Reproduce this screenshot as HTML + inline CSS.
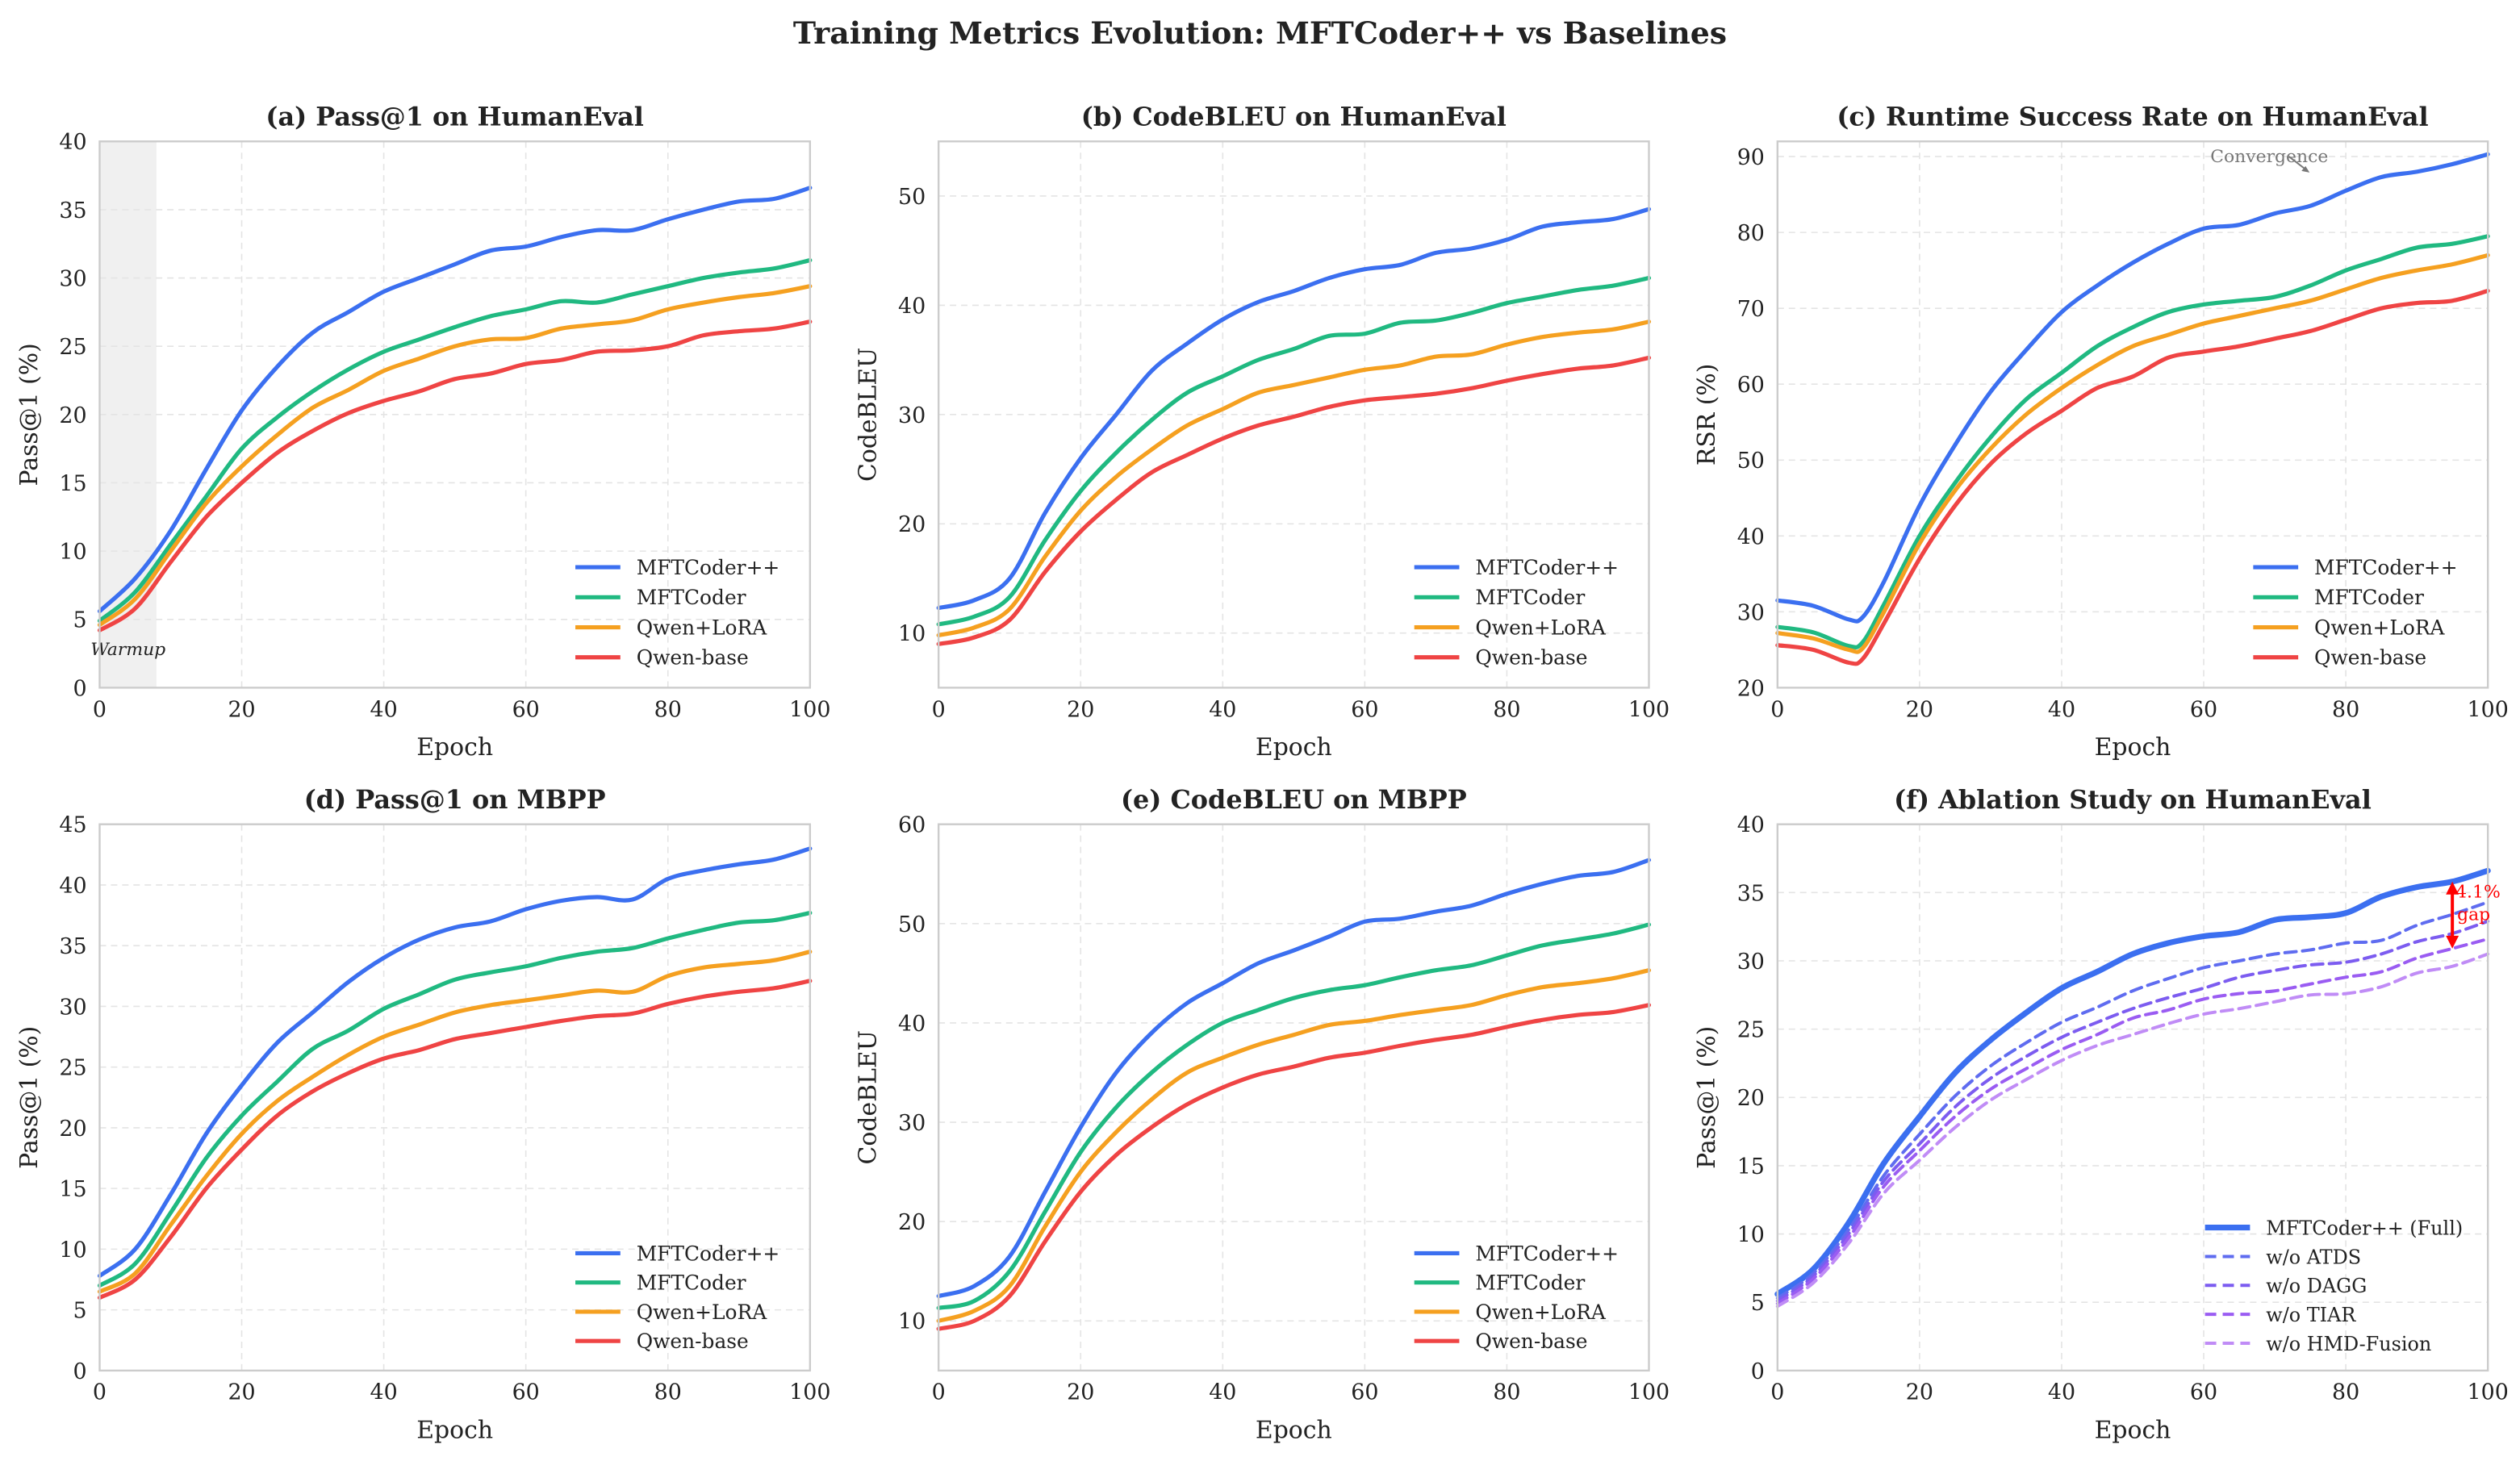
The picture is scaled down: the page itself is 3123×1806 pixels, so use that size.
<!DOCTYPE html>
<html><head><meta charset="utf-8"><style>
html,body{margin:0;padding:0;background:#fff}
svg{display:block}
text{font-family:"DejaVu Serif","Liberation Serif",serif;fill:#222}
</style></head><body>
<svg id="chart" width="3123" height="1806" viewBox="0 0 1568 906.8" preserveAspectRatio="none" xmlns="http://www.w3.org/2000/svg">
<text x="784" y="27" text-anchor="middle" font-size="19" font-weight="bold">Training Metrics Evolution: MFTCoder++ vs Baselines</text>
</svg>
<script>
const epochs = [0,5,10,15,20,25,30,35,40,45,50,55,60,65,70,75,80,85,90,95,100];
const epochsC = [0,5,10,12,15,20,25,30,35,40,45,50,55,60,65,70,75,80,85,90,95,100];
const seriesNames = ["MFTCoder++","MFTCoder","Qwen+LoRA","Qwen-base"];
const ablationNames = ["MFTCoder++ (Full)","w/o ATDS","w/o DAGG","w/o TIAR","w/o HMD-Fusion"];

const aBlue=[5.6,8,11.5,16,20.3,23.5,26,27.5,29,30,31,32,32.3,33,33.5,33.5,34.3,35,35.6,35.8,36.6];
const aGreen=[4.9,7,10.5,14,17.5,19.8,21.7,23.3,24.6,25.5,26.4,27.2,27.7,28.3,28.2,28.8,29.4,30,30.4,30.7,31.3];
const aOrange=[4.6,6.5,10,13.5,16.2,18.5,20.5,21.8,23.2,24.1,25,25.5,25.6,26.3,26.6,26.9,27.7,28.2,28.6,28.9,29.4];
const aRed=[4.2,5.8,9.2,12.5,15,17.2,18.8,20.1,21,21.7,22.6,23,23.7,24,24.6,24.7,25,25.8,26.1,26.3,26.8];

const bBlue=[12.3,13,15,21,26,30,34,36.5,38.7,40.3,41.3,42.5,43.3,43.7,44.8,45.2,46,47.2,47.6,47.9,48.8];
const bGreen=[10.8,11.5,13.3,18.5,23,26.5,29.5,32,33.5,35,36,37.2,37.4,38.4,38.6,39.3,40.2,40.8,41.4,41.8,42.5];
const bOrange=[9.8,10.5,12.2,17,21.2,24.3,26.8,29,30.5,32,32.7,33.4,34.1,34.5,35.3,35.5,36.4,37.1,37.5,37.8,38.5];
const bRed=[9,9.6,11.2,15.6,19.3,22.2,24.7,26.3,27.8,29,29.8,30.7,31.3,31.6,31.9,32.4,33.1,33.7,34.2,34.5,35.2];

const cBlue=[31.5,30.8,29,29.3,34,44,52,59,64.5,69.5,73,76,78.5,80.5,81,82.5,83.5,85.5,87.3,88,89,90.3];
const cGreen=[28,27.3,25.5,26,31,40,47,53,58,61.5,65,67.5,69.5,70.5,71,71.5,73,75,76.5,78,78.5,79.5];
const cOrange=[27.2,26.5,25,25.2,30,39,46,51.5,56,59.5,62.5,65,66.5,68,69,70,71,72.5,74,75,75.8,77];
const cRed=[25.6,25,23.3,23.8,28.5,37,44,49.5,53.5,56.5,59.5,61,63.5,64.3,65,66,67,68.5,70,70.7,71,72.3];

const dBlue=[7.8,10,14.5,19.5,23.5,27,29.5,32,34,35.5,36.5,37,38,38.7,39,38.8,40.5,41.2,41.7,42.1,43];
const dGreen=[7,8.8,13,17.5,21,23.8,26.5,28,29.8,31,32.2,32.8,33.3,34,34.5,34.8,35.6,36.3,36.9,37.1,37.7];
const dOrange=[6.5,8,12,16,19.5,22.2,24.2,26,27.5,28.5,29.5,30.1,30.5,30.9,31.3,31.2,32.5,33.2,33.5,33.8,34.5];
const dRed=[6,7.5,11,15,18.2,21,23,24.5,25.7,26.4,27.3,27.8,28.3,28.8,29.2,29.4,30.2,30.8,31.2,31.5,32.1];

const eBlue=[12.5,13.5,16.5,23,29.5,35,39,42,44,46,47.3,48.7,50.2,50.5,51.2,51.8,53,54,54.8,55.2,56.4];
const eGreen=[11.3,12,15,21,27,31.5,35,37.8,40,41.3,42.5,43.3,43.8,44.6,45.3,45.8,46.8,47.8,48.4,49,49.9];
const eOrange=[10,11,13.5,19.5,25,29,32.3,35,36.5,37.8,38.8,39.8,40.2,40.8,41.3,41.8,42.8,43.6,44,44.5,45.3];
const eRed=[9.2,10,12.5,18,23,26.7,29.5,31.8,33.5,34.8,35.6,36.5,37,37.7,38.3,38.8,39.6,40.3,40.8,41.1,41.8];

const fFull=[5.6,7.4,10.8,15.2,18.6,21.8,24.2,26.2,28,29.2,30.5,31.3,31.8,32.1,33,33.2,33.5,34.7,35.4,35.8,36.6];
const fATDS=[5.3,7.1,10.3,14.3,17.3,20.1,22.3,24,25.5,26.6,27.8,28.7,29.5,30,30.5,30.8,31.3,31.5,32.6,33.4,34.3];
const fDAGG=[5.1,6.9,10,13.9,16.6,19.3,21.4,23,24.4,25.5,26.5,27.3,28,28.8,29.3,29.7,29.9,30.5,31.4,32,32.9];
const fTIAR=[4.9,6.7,9.7,13.5,16.1,18.6,20.6,22.1,23.5,24.6,25.8,26.4,27.2,27.6,27.8,28.3,28.8,29.2,30.2,30.9,31.6];
const fHMD=[4.7,6.4,9.3,13,15.4,17.8,19.8,21.3,22.7,23.8,24.6,25.4,26.1,26.5,27,27.5,27.6,28.1,29.1,29.6,30.5];

const xTicks=[0,20,40,60,80,100];
const COLORS=["#3b6ff0","#20b981","#f5a020","#ef4444"];
const ABL_COLORS=["#3b6ff0","#5f6cf0","#7c5cf0","#9a5cf2","#c08cf6"];
const NS="http://www.w3.org/2000/svg";
const svg=document.getElementById('chart');

function mk(tag,attrs,parent){const e=document.createElementNS(NS,tag);for(const k in attrs)e.setAttribute(k,attrs[k]);(parent||svg).appendChild(e);return e;}
function smooth(pts){let d=`M${pts[0][0]},${pts[0][1]}`;for(let i=0;i<pts.length-1;i++){const p0=pts[Math.max(0,i-1)],p1=pts[i],p2=pts[i+1],p3=pts[Math.min(pts.length-1,i+2)];const c1x=p1[0]+(p2[0]-p0[0])/6,c1y=p1[1]+(p2[1]-p0[1])/6,c2x=p2[0]-(p3[0]-p1[0])/6,c2y=p2[1]-(p3[1]-p1[1])/6;d+=`C${c1x},${c1y} ${c2x},${c2y} ${p2[0]},${p2[1]}`;}return d;}

function panel(o){
  const g=mk('g',{});
  
  
  const L=o.x0,R=o.x0+442,T=o.top,B=o.top+340;
  const sx=v=>L+(v-0)/100*(R-L);
  const sy=v=>B-(v-o.ymin)/(o.ymax-o.ymin)*(B-T);
  if(o.warmup){const r=mk('rect',{x:sx(0),y:T,width:sx(8)-sx(0),height:B-T,fill:'#f0f0f0'},g);}
  xTicks.forEach(t=>{const l=mk('line',{x1:sx(t),x2:sx(t),y1:T,y2:B,stroke:'#e4e4e4','stroke-dasharray':'4,3','stroke-width':0.8},g);
    const tx=mk('text',{x:sx(t),y:B+18,'text-anchor':'middle','font-size':13.5},g);tx.textContent=t;});
  o.yticks.forEach(t=>{const l=mk('line',{x1:L,x2:R,y1:sy(t),y2:sy(t),stroke:'#e4e4e4','stroke-dasharray':'4,3','stroke-width':0.8},g);
    const tx=mk('text',{x:L-8,y:sy(t)+5,'text-anchor':'end','font-size':13.5},g);tx.textContent=t;});
  if(o.warmup){const w=mk('text',{x:sx(4),y:sy(2.4),'text-anchor':'middle','font-size':11,'font-style':'italic'},g);w.textContent='Warmup';}
  o.series.forEach((s,i)=>{const pts=s.vals.map((v,j)=>[sx(s.xs[j]),sy(v)]);const p=mk('path',{d:smooth(pts),fill:'none',stroke:s.color,'stroke-width':s.w||2.6,'stroke-linecap':'round','stroke-dasharray':s.dash||'none'},g);});
  const fr=mk('rect',{x:L,y:T,width:R-L,height:B-T,fill:'none',stroke:'#cccccc','stroke-width':1.2},g);
  const tt=mk('text',{x:(L+R)/2,y:T-10,'text-anchor':'middle','font-size':16,'font-weight':'bold'},g);tt.textContent=o.title;
  const xl=mk('text',{x:(L+R)/2,y:B+42,'text-anchor':'middle','font-size':15},g);xl.textContent='Epoch';
  const yl=mk('text',{x:0,y:0,'text-anchor':'middle','font-size':15,transform:`translate(${L-39},${(T+B)/2}) rotate(-90)`},g);yl.textContent=o.ylabel;
  const lg=mk('g',{},g);
  o.series.forEach((s,i)=>{const y=o.legY+i*o.legStep;const ln=mk('line',{x1:o.legX,x2:o.legX+28,y1:y,y2:y,stroke:s.color,'stroke-width':s.w||2.6,'stroke-dasharray':s.dash||'none'},lg);
    const t=mk('text',{x:o.legX+38,y:y+4.5,'font-size':o.legFont||12.5},lg);t.textContent=s.label;});
  return {sx,sy,g};
}
function four(xs,arrs){return arrs.map((v,i)=>({xs,vals:v,color:COLORS[i],label:seriesNames[i],key:seriesNames[i].toLowerCase().replace(/[^a-z]+/g,'-')}));}

panel({name:'panel-a-pass1-humaneval',x0:62,top:88,ymin:0,ymax:40,yticks:[0,5,10,15,20,25,30,35,40],title:'(a) Pass@1 on HumanEval',ylabel:'Pass@1 (%)',warmup:true,series:four(epochs,[aBlue,aGreen,aOrange,aRed]),legX:358,legY:353,legStep:18.7});
panel({name:'panel-b-codebleu-humaneval',x0:584,top:88,ymin:5,ymax:55,yticks:[10,20,30,40,50],title:'(b) CodeBLEU on HumanEval',ylabel:'CodeBLEU',series:four(epochs,[bBlue,bGreen,bOrange,bRed]),legX:880,legY:353,legStep:18.7});
const pc=panel({name:'panel-c-rsr-humaneval',x0:1106,top:88,ymin:20,ymax:92,yticks:[20,30,40,50,60,70,80,90],title:'(c) Runtime Success Rate on HumanEval',ylabel:'RSR (%)',series:four(epochsC,[cBlue,cGreen,cOrange,cRed]),legX:1402,legY:353,legStep:18.7});
panel({name:'panel-d-pass1-mbpp',x0:62,top:513,ymin:0,ymax:45,yticks:[0,5,10,15,20,25,30,35,40,45],title:'(d) Pass@1 on MBPP',ylabel:'Pass@1 (%)',series:four(epochs,[dBlue,dGreen,dOrange,dRed]),legX:358,legY:780,legStep:18.2});
panel({name:'panel-e-codebleu-mbpp',x0:584,top:513,ymin:5,ymax:60,yticks:[10,20,30,40,50,60],title:'(e) CodeBLEU on MBPP',ylabel:'CodeBLEU',series:four(epochs,[eBlue,eGreen,eOrange,eRed]),legX:880,legY:780,legStep:18.2});
const abl=[fFull,fATDS,fDAGG,fTIAR,fHMD].map((v,i)=>({xs:epochs,vals:v,color:ABL_COLORS[i],label:ablationNames[i],w:i==0?3.6:2,dash:i==0?'none':'7,4',key:ablationNames[i].toLowerCase().replace(/[^a-z]+/g,'-')}));
const pf=panel({name:'panel-f-ablation-humaneval',x0:1106,top:513,ymin:0,ymax:40,yticks:[0,5,10,15,20,25,30,35,40],title:'(f) Ablation Study on HumanEval',ylabel:'Pass@1 (%)',series:abl,legX:1372,legY:764,legStep:18,legFont:12});

const cv=mk('text',{x:1412,y:101,'text-anchor':'middle','font-size':11});cv.style.fill='#777';cv.textContent='Convergence';


const ca=mk('path',{d:`M${pc.sx(72)},${pc.sy(90)} L${pc.sx(74.5)},${pc.sy(88.2)}`,stroke:'#777','stroke-width':1,fill:'none'});


const ch=mk('path',{d:`M${pc.sx(74.9)},${pc.sy(87.9)} l-5,-1 l2.5,-3 z`,fill:'#777'});



const gx=pf.sx(95),gy1=pf.sy(35.8),gy2=pf.sy(30.9);
const ga=mk('line',{x1:gx,x2:gx,y1:gy1+6,y2:gy2-6,stroke:'#ff0000','stroke-width':2});


const gh1=mk('path',{d:`M${gx},${gy1} l-4,8 l8,0 z`,fill:'#ff0000'});


const gh2=mk('path',{d:`M${gx},${gy2} l-4,-8 l8,0 z`,fill:'#ff0000'});


const gt=mk('text',{x:gx+2,y:gy1+10,'font-size':11});gt.style.fill='#ff0000';gt.textContent='4.1%';


const gt2=mk('text',{x:gx+3,y:gy1+24,'font-size':11});gt2.style.fill='#ff0000';gt2.textContent='gap';


</script>
</body></html>
